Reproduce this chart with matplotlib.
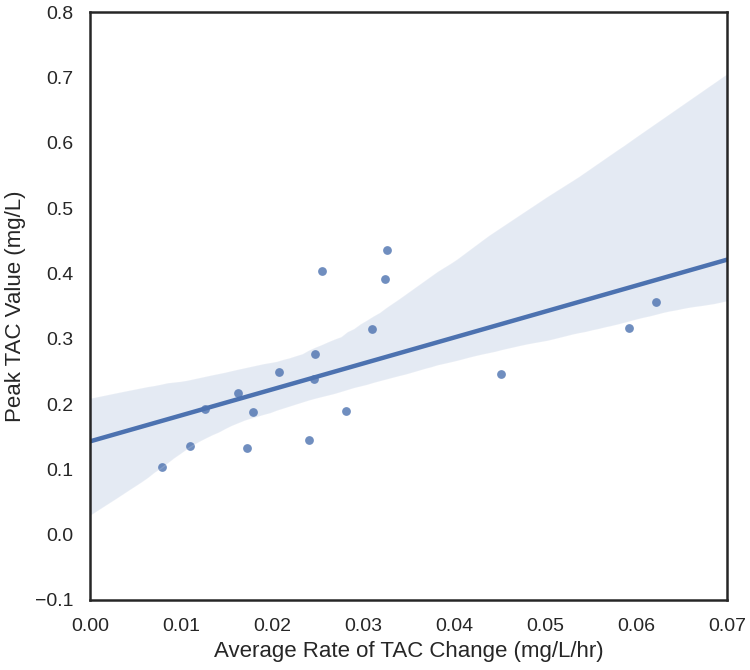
import matplotlib
matplotlib.use("Agg")
import matplotlib.pyplot as plt
import seaborn as sns
import numpy as np

rate_change = [0.00795, 0.01096, 0.01264, 0.01630, 0.01729, 0.01795, 0.02080,
               0.02476, 0.02458, 0.02410, 0.02549, 0.02813, 0.03102, 0.03242,
               0.03260, 0.04520, 0.05926, 0.06216]
peak_tac = [0.1031, 0.1357, 0.1923, 0.2173, 0.1322, 0.1882, 0.2494,
            0.2765, 0.2387, 0.1449, 0.4040, 0.1893, 0.3152, 0.3908,
            0.4352, 0.2463, 0.3168, 0.3556]

xticks = [0.00, 0.01, 0.02, 0.03, 0.04, 0.05, 0.06, 0.07]
yticks = [-0.1, 0.0, 0.1, 0.2, 0.3, 0.4, 0.5, 0.6, 0.7, 0.8]

# band edges (x=0 lower/upper, x=0.07 lower/upper)
band_ref = [0.035, 0.215, 0.358, 0.707]


def band_for_seed(seed, xs, ys, n_boot=1000):
    rng = np.random.default_rng(seed)
    X = np.c_[np.ones(len(xs)), xs]
    g = np.c_[np.ones(2), [0.0, 0.07]]
    n = len(xs)
    betas = []
    for _ in range(n_boot):
        idx = rng.integers(0, n, n, dtype=np.intp)
        betas.append(np.linalg.pinv(X[idx]).dot(ys[idx]))
    yh = g.dot(np.array(betas).T)
    lo = np.percentile(yh, 2.5, axis=1)
    hi = np.percentile(yh, 97.5, axis=1)
    return np.array([lo[0], hi[0], lo[1], hi[1]])


xs = np.array(rate_change)
ys = np.array(peak_tac)
best_seed, best_err = 0, np.inf
for sd in range(60):
    err = np.sum((band_for_seed(sd, xs, ys) - np.array(band_ref)) ** 2)
    if err < best_err:
        best_seed, best_err = sd, err

sns.set_style("white")
plt.rcParams['font.family'] = ['Liberation Sans', 'DejaVu Sans']
plt.rcParams['axes.unicode_minus'] = True

fig = plt.figure(figsize=(7.5, 6.7), dpi=100)
ax = fig.add_axes([0.12, 0.1045, 0.8493, 0.8775])
ax.set_xlim(0, 0.07)
ax.set_ylim(-0.1, 0.8)

sns.regplot(x=xs, y=ys, ax=ax, truncate=False,
            color="#4C72B0", seed=best_seed,
            scatter_kws=dict(s=40, alpha=0.8, linewidths=0),
            line_kws=dict(linewidth=3.2))

ax.set_xlim(0, 0.07)
ax.set_ylim(-0.1, 0.8)
ax.set_xticks(xticks)
ax.set_yticks(yticks)
ax.set_xticklabels([f"{t:.2f}" for t in xticks])
ax.set_yticklabels([f"{t:.1f}".replace("-", "\u2212") for t in yticks])
ax.tick_params(axis='x', labelsize=14, length=0, pad=13, colors="#262626")
ax.tick_params(axis='y', labelsize=14, length=0, pad=12, colors="#262626")
ax.set_xlabel("Average Rate of TAC Change (mg/L/hr)", fontsize=16, color="#262626", labelpad=4)
ax.set_ylabel("Peak TAC Value (mg/L)", fontsize=16, color="#262626", labelpad=6)
for s in ax.spines.values():
    s.set_color("#262626")
    s.set_linewidth(1.8)

fig.savefig("out.png", dpi=100)
